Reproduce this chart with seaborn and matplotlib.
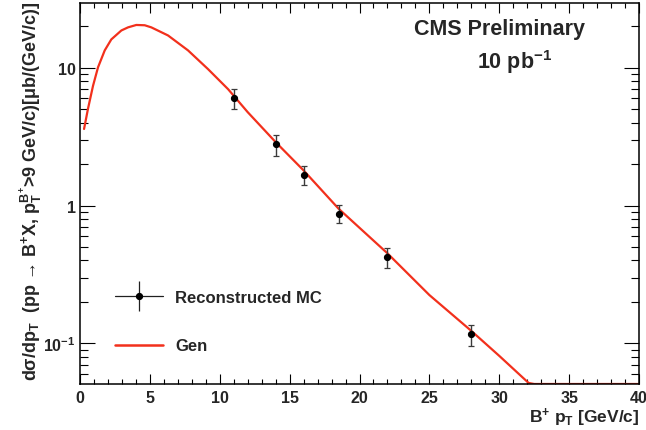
import numpy as np
import pandas as pd
import matplotlib
matplotlib.use("Agg")
import matplotlib.pyplot as plt
from matplotlib.lines import Line2D
from matplotlib.ticker import FixedLocator, FixedFormatter, LogLocator, MultipleLocator, NullFormatter
import seaborn as sns

# ---- data ----
gen_pt = [0.29, 0.57, 0.93, 1.29, 1.77, 2.24, 2.96, 3.44, 4.03, 4.63, 5.1, 6.3, 7.73, 9.16,
          10.6, 12.0, 14, 16, 18.5, 22, 25, 28, 30, 32.1, 32.5, 40]
gen_xsec = [3.6, 5.04, 7.4, 10.1, 13.4, 16.1, 18.7, 19.7, 20.5, 20.4, 19.7, 17.2, 13.4, 9.8,
            7.0, 4.77, 2.89, 1.80, 0.95, 0.45, 0.224, 0.123, 0.081, 0.0515, 0.0, 0.0]

reco_pt = [11, 14, 16, 18.5, 22, 28]
reco_xsec = [6.0, 2.78, 1.68, 0.875, 0.425, 0.116]
reco_err = [1.0, 0.47, 0.27, 0.13, 0.07, 0.02]

x_ticks = [0, 5, 10, 15, 20, 25, 30, 35, 40]
x_ticklabels = ["0", "5", "10", "15", "20", "25", "30", "35", "40"]
y_ticks = [0.1, 1, 10]
y_ticklabels = ["$10^{-1}$", "1", "10"]

x_range = (0, 40)
y_range = (0.0506, 29.6)

# ---- style ----
sns.set_style("ticks")
plt.rcParams["font.family"] = ["Liberation Sans", "DejaVu Sans"]
plt.rcParams["font.weight"] = "bold"
plt.rcParams["mathtext.fontset"] = "custom"
plt.rcParams["mathtext.rm"] = "Liberation Sans:bold"
plt.rcParams["mathtext.it"] = "Liberation Sans:bold"
plt.rcParams["mathtext.bf"] = "Liberation Sans:bold"
plt.rcParams["mathtext.sf"] = "Liberation Sans:bold"
plt.rcParams["mathtext.default"] = "rm"

fig = plt.figure(figsize=(6.46, 4.31), dpi=100)
ax = fig.add_axes([80 / 646, 46 / 431, (639 - 80) / 646, (385 - 4) / 431])

red = "#f2301c"
gen_df = pd.DataFrame({"pt": gen_pt, "xsec": np.maximum(gen_xsec, y_range[0])})
sns.lineplot(data=gen_df, x="pt", y="xsec", ax=ax, color=red, lw=1.6,
             estimator=None, sort=False, legend=False, zorder=2)

ax.errorbar(reco_pt, reco_xsec, yerr=reco_err, fmt="o", color="black", ms=4.2,
            ecolor="#3a3a3a", elinewidth=1.0, capsize=2.5, capthick=0.9, zorder=3)

ax.set_yscale("log")
ax.set_xlim(*x_range)
ax.set_ylim(*y_range)

ax.xaxis.set_major_locator(FixedLocator(x_ticks))
ax.xaxis.set_major_formatter(FixedFormatter(x_ticklabels))
ax.xaxis.set_minor_locator(MultipleLocator(1))
ax.yaxis.set_major_locator(FixedLocator(y_ticks))
ax.yaxis.set_major_formatter(FixedFormatter(y_ticklabels))
ax.yaxis.set_minor_locator(LogLocator(base=10, subs=np.arange(2, 10)))
ax.yaxis.set_minor_formatter(NullFormatter())

for s in ax.spines.values():
    s.set_linewidth(1.1)
    s.set_color("black")
    s.set_visible(True)

ax.tick_params(axis="both", which="both", direction="in", top=True, right=True, width=0.8, color="black")
ax.tick_params(axis="x", which="major", length=7.5, labelsize=11.5, pad=4)
ax.tick_params(axis="x", which="minor", length=3.8)
ax.tick_params(axis="y", which="major", length=11, labelsize=11.5, pad=3)
ax.tick_params(axis="y", which="minor", length=6)
for lbl in ax.get_xticklabels() + ax.get_yticklabels():
    lbl.set_fontweight("bold")

ax.set_xlabel("")
ax.set_ylabel("")
ax.text(1.0, -0.056, r"B$^{+}$ p$_{T}$ [GeV/c]", transform=ax.transAxes,
        ha="right", va="top", fontsize=12.5, fontweight="bold")

fig.text(31 / 646, 1 - 381 / 431,
         r"d$\mathregular{\sigma}$/dp$_{T}$  (pp → B$^{+}$X, p$_{T}^{B^{+}}$>9 GeV/c)[μb/(GeV/c)]",
         rotation=90, ha="center", va="bottom", fontsize=13, fontweight="bold")

ax.text(0.751, 0.932, "CMS Preliminary", transform=ax.transAxes, ha="center", va="center",
        fontsize=15.5, fontweight="bold")
ax.text(0.778, 0.848, r"10 pb$^{-1}$", transform=ax.transAxes, ha="center", va="center",
        fontsize=15.5, fontweight="bold")

h_reco = (Line2D([], [], color="#202020", lw=0.9),
          Line2D([], [], marker="|", ms=21, mew=0.9, color="#202020", ls="none"),
          Line2D([], [], marker="o", ms=4.2, color="black", ls="none"))
h_gen = Line2D([], [], color=red, lw=1.8)
leg = ax.legend([h_reco, h_gen], ["Reconstructed MC", "Gen"], loc="upper left",
                bbox_to_anchor=(0.035, 0.286), frameon=False, fontsize=12,
                handlelength=2.9, handletextpad=0.75, labelspacing=2.0)
for t in leg.get_texts():
    t.set_fontweight("bold")

fig.savefig("out.png", dpi=100)
